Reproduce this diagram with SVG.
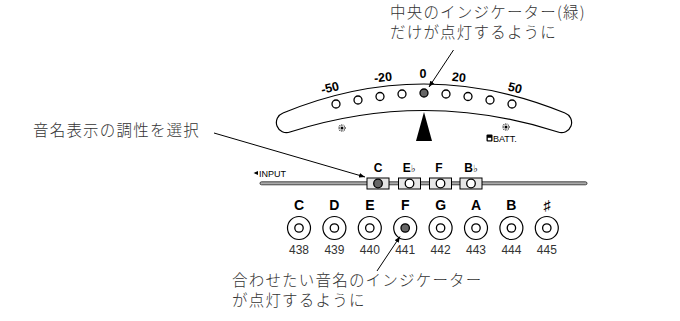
<svg xmlns="http://www.w3.org/2000/svg" width="680" height="321" viewBox="0 0 680 321">
<defs>
<marker id="ah" viewBox="0 0 10 10" refX="10" refY="5" markerWidth="6" markerHeight="6" orient="auto" markerUnits="userSpaceOnUse">
<path d="M0,1 L10,5 L0,9 Z" fill="#000"/>
</marker>
<style>
.jp{font-family:"Noto Sans CJK JP","Noto Sans",sans-serif;font-size:15.5px;font-weight:300;letter-spacing:1.2px;fill:#333}
.led{fill:#fff;stroke:#000;stroke-width:1.3}
.on{fill:#666;stroke:#000;stroke-width:1.3}
.sc{font-family:"Liberation Sans",Arial,sans-serif;font-size:12.5px;font-weight:bold;fill:#000}
.key{font-family:"Liberation Sans",Arial,sans-serif;font-size:14px;font-weight:bold;fill:#000;text-anchor:middle}
.btl{font-family:"Liberation Sans",Arial,sans-serif;font-size:12px;font-weight:bold;fill:#000;text-anchor:middle}
.num{font-family:"Liberation Sans",Arial,sans-serif;font-size:12px;fill:#333;text-anchor:middle}
.sm{font-family:"Liberation Sans",Arial,sans-serif;font-size:9px;fill:#000}
.ring{fill:#fff;stroke:#000;stroke-width:1.2}
.btn{fill:#e6e6e6;stroke:#000;stroke-width:1}
.lead{stroke:#000;stroke-width:1;fill:none}
</style>
</defs>
<rect width="680" height="321" fill="#fff"/>

<g id="meter">
<path d="M283 113 Q424 55 565 113 A10 10 0 0 1 558 132 Q424 89 290 132 A10 10 0 0 1 283 113 Z" fill="#fff" stroke="#000" stroke-width="1.2"/>
<circle class="led" cx="336" cy="104" r="4"/>
<circle class="led" cx="358" cy="100" r="4"/>
<circle class="led" cx="380" cy="96.5" r="4"/>
<circle class="led" cx="402" cy="94" r="4"/>
<circle class="on" cx="424" cy="93" r="4"/>
<circle class="led" cx="446" cy="94" r="4"/>
<circle class="led" cx="468" cy="96.5" r="4"/>
<circle class="led" cx="490" cy="100" r="4"/>
<circle class="led" cx="512" cy="104" r="4"/>
<text class="sc" x="330" y="92" text-anchor="middle" transform="rotate(-14 330 88)">-50</text>
<text class="sc" x="383" y="81.5" text-anchor="middle" transform="rotate(-6 383 77)">-20</text>
<text class="sc" x="423" y="78" text-anchor="middle">0</text>
<text class="sc" x="459" y="81.5" text-anchor="middle" transform="rotate(6 459 77)">20</text>
<text class="sc" x="515" y="92" text-anchor="middle" transform="rotate(14 515 88)">50</text>
<path d="M424 112 L416 141 L432 141 Z" fill="#000"/>
<circle cx="342" cy="128" r="3" fill="none" stroke="#000" stroke-width="1.2" stroke-dasharray="0.8 0.8"/>
<circle cx="342" cy="128" r="1.5" fill="#000"/>
<circle cx="506" cy="127" r="3" fill="none" stroke="#000" stroke-width="1.2" stroke-dasharray="0.8 0.8"/>
<circle cx="506" cy="127" r="1.5" fill="#000"/>
<rect x="486.5" y="134.5" width="6" height="7" rx="1" fill="#000"/>
<rect x="487.8" y="137.8" width="3.4" height="2.5" fill="#fff"/>
<text class="sm" x="493" y="141.5">BATT.</text>
</g>

<g id="input-rail">
<rect x="260" y="181.8" width="327" height="3" rx="1.5" fill="#aaa" stroke="#222" stroke-width="0.8"/>
<path d="M253.5 173 L258 171 L258 175 Z" fill="#000"/>
<text class="sm" x="259" y="176.5">INPUT</text>
</g>

<g id="key-buttons">
<rect class="btn" x="367" y="178" width="22" height="11"/>
<circle class="on" cx="378" cy="183.5" r="4.3" stroke-width="1.1"/>
<rect class="btn" x="398.5" y="178" width="22" height="11"/>
<circle class="led" cx="409.5" cy="183.5" r="4.3" stroke-width="1.1"/>
<rect class="btn" x="429.5" y="178" width="22" height="11"/>
<circle class="led" cx="440.5" cy="183.5" r="4.3" stroke-width="1.1"/>
<rect class="btn" x="460" y="178" width="22" height="11"/>
<circle class="led" cx="471" cy="183.5" r="4.3" stroke-width="1.1"/>
<text class="btl" x="378" y="172">C</text>
<text class="btl" x="409" y="172">E<tspan font-family="DejaVu Sans" font-weight="normal" font-size="10">♭</tspan></text>
<text class="btl" x="439" y="172">F</text>
<text class="btl" x="471" y="172">B<tspan font-family="DejaVu Sans" font-weight="normal" font-size="10">♭</tspan></text>
</g>

<g id="note-indicators">
<text class="key" x="299" y="210">C</text>
<text class="key" x="334.4" y="210">D</text>
<text class="key" x="369.8" y="210">E</text>
<text class="key" x="405.2" y="210">F</text>
<text class="key" x="440.6" y="210">G</text>
<text class="key" x="476" y="210">A</text>
<text class="key" x="511.4" y="210">B</text>
<text class="key" x="546.8" y="210" font-family="DejaVu Sans" font-size="13">♯</text>
<circle class="ring" cx="299" cy="228" r="11.5"/><circle class="led" cx="299" cy="228" r="4.2"/>
<circle class="ring" cx="334.4" cy="228" r="11.5"/><circle class="led" cx="334.4" cy="228" r="4.2"/>
<circle class="ring" cx="369.8" cy="228" r="11.5"/><circle class="led" cx="369.8" cy="228" r="4.2"/>
<circle class="ring" cx="405.2" cy="228" r="11.5"/><circle class="on" cx="405.2" cy="228" r="4.2"/>
<circle class="ring" cx="440.6" cy="228" r="11.5"/><circle class="led" cx="440.6" cy="228" r="4.2"/>
<circle class="ring" cx="476" cy="228" r="11.5"/><circle class="led" cx="476" cy="228" r="4.2"/>
<circle class="ring" cx="511.4" cy="228" r="11.5"/><circle class="led" cx="511.4" cy="228" r="4.2"/>
<circle class="ring" cx="546.8" cy="228" r="11.5"/><circle class="led" cx="546.8" cy="228" r="4.2"/>
<text class="num" x="299" y="254">438</text>
<text class="num" x="334.4" y="254">439</text>
<text class="num" x="369.8" y="254">440</text>
<text class="num" x="405.2" y="254">441</text>
<text class="num" x="440.6" y="254">442</text>
<text class="num" x="476" y="254">443</text>
<text class="num" x="511.4" y="254">444</text>
<text class="num" x="546.8" y="254">445</text>
</g>

<g id="label-center">
<text class="jp" x="390" y="17.5">中央のインジケーター(緑)</text>
<text class="jp" x="390" y="37.5">だけが点灯するように</text>
</g>
<g id="label-key">
<text class="jp" x="33" y="136">音名表示の調性を選択</text>
</g>
<g id="label-note">
<text class="jp" x="232" y="286">合わせたい音名のインジケーター</text>
<text class="jp" x="232" y="306">が点灯するように</text>
</g>

<g id="connectors">
<line class="lead" x1="453.5" y1="50" x2="429" y2="87" marker-end="url(#ah)"/>
<line class="lead" x1="214" y1="133" x2="365" y2="177" marker-end="url(#ah)"/>
<line class="lead" x1="377" y1="271" x2="400" y2="236.5" marker-end="url(#ah)"/>
</g>
</svg>
